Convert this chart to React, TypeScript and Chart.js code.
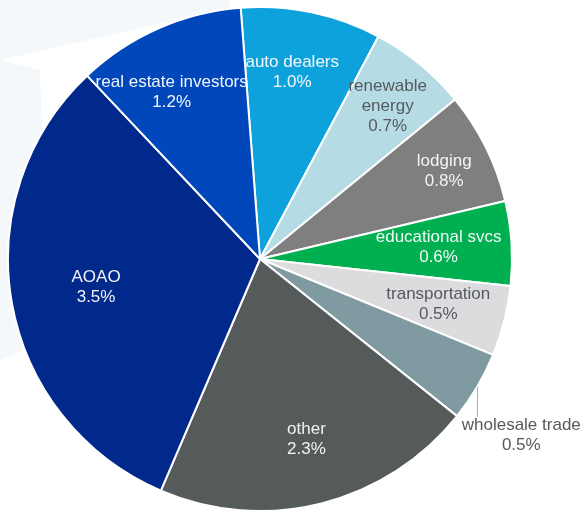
import React, { useEffect, useRef } from "react";
import { Chart, registerables } from "chart.js";

Chart.register(...registerables);

const categories = [
  "auto dealers",
  "renewable\nenergy",
  "lodging",
  "educational svcs",
  "transportation",
  "wholesale trade",
  "other",
  "AOAO",
  "real estate investors",
];
const values = [1.0, 0.7, 0.8, 0.6, 0.5, 0.5, 2.3, 3.5, 1.2];
const valueLabels = ["1.0%", "0.7%", "0.8%", "0.6%", "0.5%", "0.5%", "2.3%", "3.5%", "1.2%"];

const sliceColors = [
  "#0ea2dd",
  "#b5dce4",
  "#7f7f7f",
  "#00b050",
  "#dcdcde",
  "#7f9ba1",
  "#555a5a",
  "#00298b",
  "#0047bb",
];
const textColors = ["#f4f8fc", "#555a5f", "#f4f4f4", "#f0faf4", "#555a5f", "#555a5f", "#f2f2f2", "#f0f2f8", "#f0f4fc"];
// label placement: fraction of outer radius and angular shift (degrees)
const labelRadius = [0.75, 0.79, 0.81, 0.71, 0.73, 1.25, 0.74, 0.66, 0.75];
const labelShift = [-2, 0.5, 0.8, 0, 0, 3.5, -0.3, 0.4, -4];

const labelPlugin = {
  id: "sliceLabels",
  beforeDraw(chart: any) {
    const ctx = chart.ctx;
    ctx.save();
    ctx.fillStyle = "#f5f8fa";
    ctx.beginPath();
    ctx.moveTo(0, 0);
    ctx.lineTo(230, 0);
    ctx.lineTo(230, 8);
    ctx.lineTo(0, 60);
    ctx.closePath();
    ctx.fill();
    ctx.beginPath();
    ctx.moveTo(0, 60);
    ctx.lineTo(40, 70);
    ctx.lineTo(50, 340);
    ctx.lineTo(0, 360);
    ctx.closePath();
    ctx.fill();
    ctx.restore();
  },
  afterDatasetsDraw(chart: any) {
    const ctx = chart.ctx;
    const meta = chart.getDatasetMeta(0);
    ctx.save();
    ctx.font = "17px 'Liberation Sans', Arial, sans-serif";
    ctx.textAlign = "center";
    ctx.textBaseline = "middle";
    meta.data.forEach((arc: any, i: number) => {
      const { x, y, startAngle, endAngle, outerRadius } = arc.getProps(
        ["x", "y", "startAngle", "endAngle", "outerRadius"],
        true
      );
      const mid = (startAngle + endAngle) / 2;
      const a = mid + (labelShift[i] * Math.PI) / 180;
      const r = outerRadius * labelRadius[i];
      const cx = x + Math.cos(a) * r;
      const cy = y + Math.sin(a) * r;
      const lines = categories[i].split("\n").concat([valueLabels[i]]);
      const lh = 20;
      ctx.fillStyle = textColors[i];
      lines.forEach((ln: string, k: number) => {
        ctx.fillText(ln, cx, cy + (k - (lines.length - 1) / 2) * lh);
      });
      if (labelRadius[i] > 1) {
        const sx = x + Math.cos(mid) * outerRadius;
        const sy = y + Math.sin(mid) * outerRadius;
        ctx.strokeStyle = "#9fabf0";
        ctx.lineWidth = 1;
        ctx.beginPath();
        ctx.moveTo(Math.round(sx) + 0.5, sy);
        ctx.lineTo(Math.round(sx) + 0.5, sy + 30);
        ctx.stroke();
      }
    });
    ctx.restore();
  },
};

export default function App() {
  const ref = useRef<HTMLCanvasElement | null>(null);
  useEffect(() => {
    document.body.style.margin = "0";
    if (!ref.current) return;
    const chart = new Chart(ref.current, {
      type: "pie",
      data: {
        labels: categories.map((c) => c.replace("\n", " ")),
        datasets: [
          {
            data: values,
            backgroundColor: sliceColors,
            borderColor: "#ffffff",
            borderWidth: 2,
          },
        ],
      },
      options: {
        responsive: false,
        animation: false,
        rotation: -4.4,
        radius: 252,
        layout: { padding: { left: 8, right: 73, top: 8, bottom: 1 } },
        plugins: {
          legend: { display: false },
          tooltip: { enabled: false },
        },
      },
      plugins: [labelPlugin],
    });
    return () => chart.destroy();
  }, []);
  return (
    <div style={{ position: "absolute", left: 0, top: 0, width: 585, height: 511, background: "#ffffff" }}>
      <canvas ref={ref} width={585} height={511} />
    </div>
  );
}
